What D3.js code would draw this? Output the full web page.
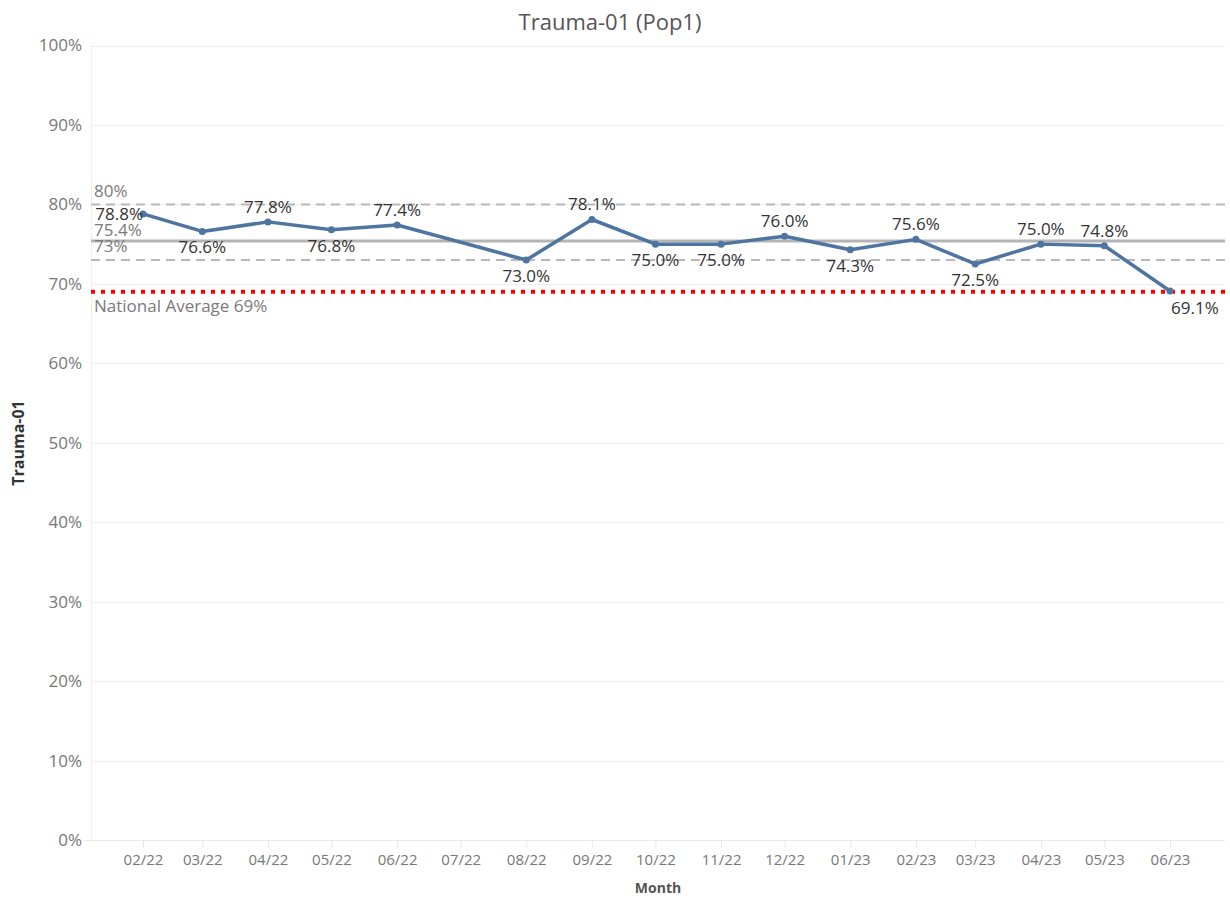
<!DOCTYPE html>
<html>
<head>
<meta charset="utf-8">
<script src="https://cdn.jsdelivr.net/npm/d3@7"></script>
<style>
  html, body { margin: 0; padding: 0; background: #fff; }
  svg { display: block; font-family: "Open Sans", "Noto Sans", sans-serif; }
</style>
</head>
<body>
<svg id="chart" width="1230" height="901"></svg>
<script>
// ---- Data ----
const months = ["02/22","03/22","04/22","05/22","06/22","07/22","08/22","09/22","10/22","11/22","12/22","01/23","02/23","03/23","04/23","05/23","06/23"];
const values = [78.8, 76.6, 77.8, 76.8, 77.4, null, 73.0, 78.1, 75.0, 75.0, 76.0, 74.3, 75.6, 72.5, 75.0, 74.8, 69.1];
const yTicks = [0,10,20,30,40,50,60,70,80,90,100];
const averageValue = 75.4;
const upperValue = 80;
const lowerValue = 73;
const nationalAverage = 69;
const titleText = "Trauma-01 (Pop1)";
const yTitle = "Trauma-01";
const xTitle = "Month";

// ---- Layout ----
const svg = d3.select("#chart");
const plotLeft = 91, plotRight = 1225, plotTop = 45.5, plotBottom = 840;
const parse = d3.timeParse("%m/%y");
const dates = months.map(parse);

const x = d3.scaleTime()
  .domain([dates[0], dates[dates.length - 1]])
  .range([143, 1170]);
const y = d3.scaleLinear().domain([0, 100]).range([plotBottom, plotTop]);

const data = months.map((m, i) => ({ m, d: dates[i], v: values[i] }));
const valid = data.filter(d => d.v != null);

// Title
svg.append("text")
  .attr("x", 610).attr("y", 30)
  .attr("text-anchor", "middle")
  .attr("font-size", 22).attr("fill", "#555")
  .text(titleText);

// Gridlines
svg.append("g")
  .selectAll("line").data(yTicks).join("line")
  .attr("x1", plotLeft).attr("x2", plotRight)
  .attr("y1", d => Math.round(y(d)) + 0.5).attr("y2", d => Math.round(y(d)) + 0.5)
  .attr("stroke", "#efefef").attr("stroke-width", 1);

// Axis lines
svg.append("line")
  .attr("x1", plotLeft + 0.5).attr("x2", plotLeft + 0.5)
  .attr("y1", plotTop).attr("y2", plotBottom)
  .attr("stroke", "#efefef");
svg.append("line")
  .attr("x1", 85).attr("x2", plotRight)
  .attr("y1", plotBottom + 0.5).attr("y2", plotBottom + 0.5)
  .attr("stroke", "#e8e8e8");

// Y axis
const yAxis = d3.axisLeft(y).tickValues(yTicks).tickSize(0).tickPadding(9).tickFormat(d => d + "%");
const yg = svg.append("g").attr("transform", `translate(${plotLeft},0)`).call(yAxis);
yg.select(".domain").remove();
yg.selectAll("text").attr("font-size", 17).attr("fill", "#777").attr("font-family", "Open Sans, sans-serif");

// X axis
const xAxis = d3.axisBottom(x).tickValues(dates).tickSize(8).tickPadding(6).tickFormat(d3.timeFormat("%m/%y"));
const xg = svg.append("g").attr("transform", `translate(0,${plotBottom})`).call(xAxis);
xg.select(".domain").remove();
xg.selectAll(".tick line").attr("stroke", "#e8e8e8");
xg.selectAll("text").attr("font-size", 15).attr("fill", "#777").attr("font-family", "Open Sans, sans-serif");

// Axis titles
svg.append("text")
  .attr("transform", `translate(24,${443}) rotate(-90)`)
  .attr("text-anchor", "middle")
  .attr("font-size", 16).attr("font-weight", "bold").attr("fill", "#333")
  .text(yTitle);
svg.append("text")
  .attr("x", 658).attr("y", 893)
  .attr("text-anchor", "middle")
  .attr("font-size", 14).attr("font-weight", "bold").attr("fill", "#555")
  .text(xTitle);

// Reference lines
const refG = svg.append("g");
refG.append("line")
  .attr("x1", plotLeft).attr("x2", plotRight)
  .attr("y1", y(upperValue)).attr("y2", y(upperValue))
  .attr("stroke", "#b8b8b8").attr("stroke-width", 2).attr("stroke-dasharray", "9,6");
refG.append("line")
  .attr("x1", plotLeft).attr("x2", plotRight)
  .attr("y1", y(lowerValue)).attr("y2", y(lowerValue))
  .attr("stroke", "#b8b8b8").attr("stroke-width", 2).attr("stroke-dasharray", "9,6");
refG.append("line")
  .attr("x1", plotLeft).attr("x2", plotRight)
  .attr("y1", y(averageValue)).attr("y2", y(averageValue))
  .attr("stroke", "#b4b4b4").attr("stroke-width", 3);
refG.append("line")
  .attr("x1", plotLeft).attr("x2", plotRight)
  .attr("y1", y(nationalAverage)).attr("y2", y(nationalAverage))
  .attr("stroke", "#ff0000").attr("stroke-width", 4).attr("stroke-dasharray", "4,6");

const refLabel = (txt, yy) => svg.append("text")
  .attr("x", 94).attr("y", yy)
  .attr("font-size", 17).attr("fill", "#7a7a7a")
  .text(txt);
refLabel(upperValue + "%", y(upperValue) - 7);
refLabel(averageValue.toFixed(1) + "%", y(averageValue) - 5);
refLabel(lowerValue + "%", y(lowerValue) - 8);
refLabel("National Average " + nationalAverage + "%", y(nationalAverage) + 20);

// Line
const line = d3.line().x(d => x(d.d)).y(d => y(d.v));
svg.append("path")
  .datum(valid)
  .attr("d", line)
  .attr("fill", "none")
  .attr("stroke", "#4e74a0")
  .attr("stroke-width", 3.5)
  .attr("stroke-linejoin", "round");

svg.append("g").selectAll("circle").data(valid).join("circle")
  .attr("cx", d => x(d.d)).attr("cy", d => y(d.v))
  .attr("r", 3.5).attr("fill", "#4e74a0");

// Data labels
const labels = svg.append("g");
valid.forEach((d, i) => {
  const px = x(d.d), py = y(d.v);
  let tx = px, ty, anchor = "middle";
  if (i === 0) {
    tx = px; ty = py + 6; anchor = "end";
  } else if (i === valid.length - 1) {
    tx = px + 1; ty = py + 23; anchor = "start";
  } else {
    const nb = (valid[i - 1].v + valid[i + 1].v) / 2;
    ty = d.v >= nb ? py - 9 : py + 22;
  }
  labels.append("text")
    .attr("x", tx).attr("y", ty)
    .attr("text-anchor", anchor)
    .attr("font-size", 17).attr("fill", "#333")
    .text(d.v.toFixed(1) + "%");
});
</script>
</body>
</html>
